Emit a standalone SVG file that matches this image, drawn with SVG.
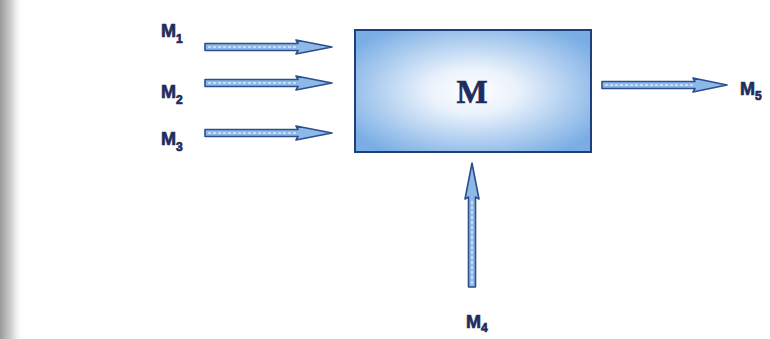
<svg xmlns="http://www.w3.org/2000/svg" width="770" height="339" viewBox="0 0 770 339">
<defs>
<radialGradient id="boxfill" cx="0.5" cy="0.5" r="0.62">
<stop offset="0" stop-color="#ffffff"/>
<stop offset="0.3" stop-color="#eaf2fc"/>
<stop offset="1" stop-color="#79ade4"/>
</radialGradient>
<linearGradient id="edge" x1="0" y1="0" x2="1" y2="0">
<stop offset="0" stop-color="#9a9a9a"/>
<stop offset="0.5" stop-color="#d4d4d4"/>
<stop offset="1" stop-color="#ffffff" stop-opacity="0"/>
</linearGradient>
<style>
.arrow{fill:#8db8e8;stroke:#2b4f8c;stroke-width:1.6;stroke-linejoin:round}
.hl{stroke:#d8e8f8;stroke-width:1.5;fill:none;stroke-dasharray:3 2}
.lbl{font-family:"Liberation Sans",Arial,sans-serif;font-weight:bold;font-size:18px;fill:#1f2d5e;stroke:#1f2d5e;stroke-width:0.7}
.sub{font-size:12px}
</style>
</defs>
<rect width="770" height="339" fill="#ffffff"/>
<rect x="0" y="0" width="24" height="339" fill="url(#edge)"/>
<g id="connectors">
<path class="arrow" d="M205,43.5 H298 L296,40 L332,47 L296,54 L298,50.5 H205 Z"/>
<line class="hl" x1="208" y1="47" x2="296" y2="47"/>
<path class="arrow" d="M205,79.5 H298 L296,76 L332,83 L296,90 L298,86.5 H205 Z"/>
<line class="hl" x1="208" y1="83" x2="296" y2="83"/>
<path class="arrow" d="M205,129.5 H298 L296,126 L332,133 L296,140 L298,136.5 H205 Z"/>
<line class="hl" x1="208" y1="133" x2="296" y2="133"/>
<path class="arrow" d="M602,81.5 H695 L693,78 L727,85 L693,92 L695,88.5 H602 Z"/>
<line class="hl" x1="605" y1="85" x2="693" y2="85"/>
<path class="arrow" d="M468.5,287 V197 L465,199 L472,163 L479,199 L475.5,197 V287 Z"/>
<line class="hl" x1="472" y1="284" x2="472" y2="199"/>
</g>
<g id="node-M">
<rect x="355" y="30" width="236" height="122" fill="url(#boxfill)" stroke="#1f3f7a" stroke-width="2"/>
<text x="472" y="103" text-anchor="middle" font-family="Liberation Serif,'Times New Roman',serif" font-weight="bold" font-size="33" fill="#1f2d5e" stroke="#1f2d5e" stroke-width="0.6">M</text>
</g>
<g id="node-M1"><text class="lbl" x="161" y="37">M<tspan class="sub" dy="6">1</tspan></text></g>
<g id="node-M2"><text class="lbl" x="161" y="98">M<tspan class="sub" dy="6">2</tspan></text></g>
<g id="node-M3"><text class="lbl" x="161" y="145">M<tspan class="sub" dy="6">3</tspan></text></g>
<g id="node-M4"><text class="lbl" x="466" y="328">M<tspan class="sub" dy="4">4</tspan></text></g>
<g id="node-M5"><text class="lbl" x="740" y="95">M<tspan class="sub" dy="5">5</tspan></text></g>
</svg>
